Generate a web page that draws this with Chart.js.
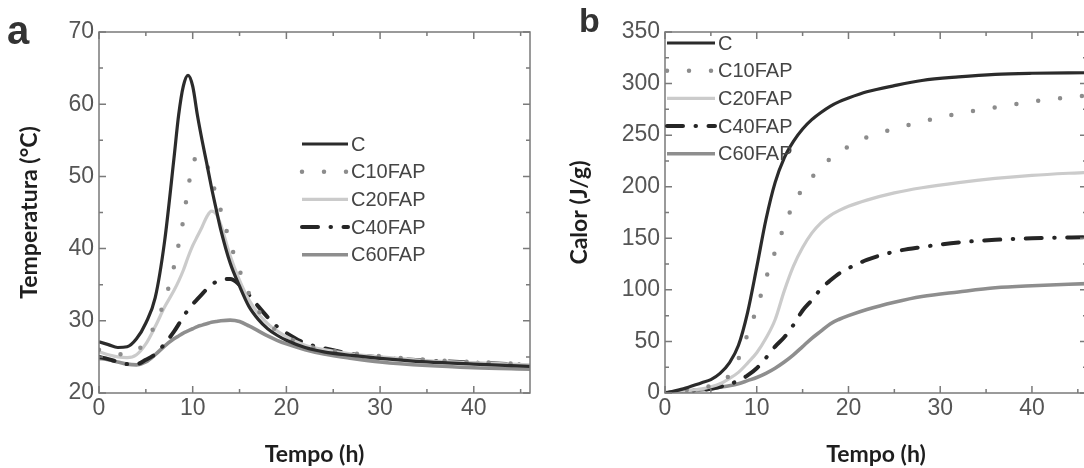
<!DOCTYPE html>
<html>
<head>
<meta charset="utf-8">
<script src="https://cdn.jsdelivr.net/npm/chart.js@4/dist/chart.umd.min.js"></script>
<style>
  html, body { margin: 0; padding: 0; background: #fff; overflow: hidden; }
  #wrap { position: relative; width: 1084px; height: 468px; overflow: hidden; }
  .panel { position: absolute; top: 0; }
  .tag { position: absolute; font-family: "Liberation Sans", Arial, sans-serif; font-weight: bold; color: #333; line-height: 1; }
</style>
</head>
<body>
<div id="wrap">
  <div class="panel" style="left:0"><canvas id="TempChart" width="540" height="468"></canvas></div>
  <div class="panel" style="left:540px"><canvas id="HeatChart" width="552" height="468"></canvas></div>
  <div class="tag" style="left:7px;top:10px;font-size:40px">a</div>
  <div class="tag" style="left:579px;top:3px;font-size:34px">b</div>
</div>
<script>
const seriesNames = ["C", "C10FAP", "C20FAP", "C40FAP", "C60FAP"];

// a) temperatura (°C) vs tempo (h)
const timeA = [0, 1, 2, 3, 4, 5, 6, 7, 8, 8.5, 9, 9.5, 10, 10.5, 11, 11.5, 12, 12.5, 13, 14, 15, 16, 17, 18, 19, 20, 22, 24, 27, 30, 35, 40, 46];
const tempC      = [27.1, 26.7, 26.3, 26.4, 27.5, 29.7, 33.2, 41, 52.5, 58.5, 62.5, 64, 62.5, 58.5, 55, 51.8, 48.5, 45.5, 42.6, 38, 34.8, 32, 30.2, 28.9, 28, 27.3, 26.3, 25.7, 25.2, 24.8, 24.3, 24, 23.7];
const tempC10FAP = [26, 25.7, 25.4, 25.3, 25.8, 27.2, 29.5, 32.8, 37.5, 40.6, 44, 48.3, 51.6, 52.8, 52.8, 51.7, 49.5, 47.5, 45.3, 40.8, 37, 33.8, 31.4, 29.8, 28.6, 27.8, 26.6, 26, 25.5, 25.1, 24.6, 24.3, 24];
const tempC20FAP = [25.7, 25.3, 25, 24.9, 25.3, 26.8, 29.2, 31.9, 34.2, 35.5, 37, 38.8, 40.4, 41.7, 43, 44.4, 45.2, 44.8, 43.3, 39, 35.6, 32.9, 31, 29.6, 28.6, 27.8, 26.6, 26, 25.4, 25, 24.5, 24.2, 23.9];
const tempC40FAP = [25, 24.7, 24.3, 24, 24, 24.6, 25.4, 26.8, 28.5, 29.5, 30.6, 31.5, 32.3, 33, 33.7, 34.4, 35, 35.4, 35.7, 35.8, 35, 33.6, 32, 30.5, 29.2, 28.3, 26.9, 26.2, 25.4, 24.9, 24.5, 24.2, 23.9];
const tempC60FAP = [24.8, 24.6, 24.3, 24, 23.9, 24.3, 25.3, 26.5, 27.5, 27.9, 28.3, 28.6, 28.9, 29.2, 29.4, 29.6, 29.8, 29.9, 30, 30.1, 29.9, 29.3, 28.6, 27.9, 27.3, 26.8, 26, 25.4, 24.8, 24.3, 23.8, 23.5, 23.3];

// b) calor (J/g) vs tempo (h)
const timeB = [0, 2, 4, 5, 6, 7, 8, 9, 10, 11, 12, 13, 14, 15, 16, 17, 18, 19, 20, 22, 25, 28, 32, 36, 40, 46];
const heatC      = [0, 4, 10, 13, 19, 29, 46, 78, 122, 168, 204, 228, 244, 256, 265, 272, 278, 282.5, 286, 292, 298, 303, 306.5, 309, 310, 310.5];
const heatC10FAP = [0, 2.5, 5, 7, 10, 17, 33, 57, 82, 111, 137, 162, 183, 198, 209, 219, 227, 233.5, 239, 248, 256, 263, 271, 277, 282.5, 288.5];
const heatC20FAP = [0, 2, 4, 6, 9, 14, 20, 29, 39, 53, 71, 99, 123, 141, 155, 165, 172, 177, 181, 187, 194, 199, 204, 208, 211, 214];
const heatC40FAP = [0, 1.5, 3, 4, 6, 8.5, 12, 17, 24, 34, 45, 54, 66, 80, 90, 101, 109, 116, 121, 129, 137, 141.5, 146, 148.5, 150, 151];
const heatC60FAP = [0, 1.5, 3, 4, 5.5, 7, 9, 12, 15, 19, 24, 30, 37, 45, 53, 60, 67, 71.5, 75, 81, 88, 93.5, 98, 102, 104, 106];

const tempSeries = [tempC, tempC10FAP, tempC20FAP, tempC40FAP, tempC60FAP];
const heatSeries = [heatC, heatC10FAP, heatC20FAP, heatC40FAP, heatC60FAP];

// line look of each series: C, C10FAP, C20FAP, C40FAP, C60FAP
const lineStyles = [
    {color: "#2b2b2b", width: 3.2, dash: [], cap: "butt"},
    {color: "#8c8c8c", width: 4.5, dash: [0, 22], cap: "round"},
    {color: "#cbcbcb", width: 3.2, dash: [], cap: "butt"},
    {color: "#252525", width: 4, dash: [16, 12.5, 0.5, 12.5], cap: "round"},
    {color: "#8e8e8e", width: 3.6, dash: [], cap: "butt"}
];

function makeDatasets(times, series){
    return series.map((vals, i) => ({
        label: seriesNames[i],
        data: times.map((t, j) => ({x: t, y: vals[j]})),
        borderColor: lineStyles[i].color,
        borderWidth: lineStyles[i].width,
        borderDash: lineStyles[i].dash,
        borderCapStyle: lineStyles[i].cap,
        cubicInterpolationMode: "monotone",
        pointRadius: 0,
        fill: false
    }));
}

// box round the plot with small inward ticks on all four sides
const framePlugin = {
    id: "frame",
    afterDatasetsDraw(chart, args, opts){
        const ctx = chart.ctx;
        const a = chart.chartArea;
        const x = chart.scales.x, y = chart.scales.y;
        ctx.save();
        ctx.strokeStyle = "#7a7a7a";
        ctx.lineWidth = 1.5;
        ctx.strokeRect(a.left, a.top, a.right - a.left, a.bottom - a.top);
        ctx.beginPath();
        for (let v = x.min; v <= x.max + 1e-9; v += opts.xMinor){
            const px = x.getPixelForValue(v);
            const len = Math.abs(v % opts.xMajor) < 1e-9 ? 7 : 4;
            ctx.moveTo(px, a.bottom); ctx.lineTo(px, a.bottom - len);
            ctx.moveTo(px, a.top); ctx.lineTo(px, a.top + len);
        }
        for (let v = y.min; v <= y.max + 1e-9; v += opts.yMinor){
            const py = y.getPixelForValue(v);
            const len = Math.abs(v % opts.yMajor) < 1e-9 ? 7 : 4;
            ctx.moveTo(a.left, py); ctx.lineTo(a.left + len, py);
            ctx.moveTo(a.right, py); ctx.lineTo(a.right - len, py);
        }
        ctx.stroke();
        ctx.restore();
    }
};

// legend drawn inside the plot, sample line then name
const legendPlugin = {
    id: "innerLegend",
    afterDraw(chart, args, opts){
        const ctx = chart.ctx;
        ctx.save();
        ctx.font = "20px 'Liberation Sans', Arial, sans-serif";
        ctx.fillStyle = "#454545";
        ctx.textBaseline = "middle";
        chart.data.datasets.forEach((ds, i) => {
            const yy = opts.y + i * opts.rowH;
            ctx.strokeStyle = ds.borderColor;
            ctx.lineWidth = ds.borderWidth;
            ctx.setLineDash(ds.borderDash);
            ctx.lineCap = ds.borderCapStyle;
            ctx.beginPath();
            ctx.moveTo(opts.x, yy);
            ctx.lineTo(opts.x + opts.lineLen, yy);
            ctx.stroke();
            ctx.setLineDash([]);
            ctx.fillText(ds.label, opts.x + opts.lineLen + 3, yy + 1);
        });
        ctx.restore();
    }
};

const tickFont = {family: "'Liberation Sans', Arial, sans-serif", size: 23};
const titleFont = {family: "Lato, sans-serif", size: 23, weight: "bold"};

function makeChart(canvasId, times, series, opt){
    return new Chart(document.getElementById(canvasId).getContext("2d"), {
        type: "line",
        data: {datasets: makeDatasets(times, series)},
        options: {
            responsive: false,
            animation: false,
            events: [],
            layout: {autoPadding: false, padding: {top: 32, right: opt.padRight, bottom: 0, left: 0}},
            plugins: {
                legend: {display: false},
                tooltip: {enabled: false},
                frame: {xMajor: 10, xMinor: 5, yMajor: opt.yStep, yMinor: opt.yStep / 2},
                innerLegend: opt.legend
            },
            scales: {
                x: {
                    type: "linear",
                    min: 0, max: 46,
                    afterFit: s => { s.height = 75; },
                    grid: {display: false, drawTicks: false},
                    border: {display: false},
                    ticks: {stepSize: 10, includeBounds: false, padding: 2, color: "#555", font: tickFont},
                    title: {display: true, text: "Tempo (h)", color: "#1e1e1e", font: titleFont, padding: {top: 0, bottom: 0}}
                },
                y: {
                    type: "linear",
                    min: opt.yMin, max: opt.yMax,
                    afterFit: s => { s.width = opt.yWidth; },
                    grid: {display: false, drawTicks: false},
                    border: {display: false},
                    ticks: {stepSize: opt.yStep, padding: 5, color: "#555", font: tickFont},
                    title: {display: true, text: opt.yTitle, color: "#1e1e1e", font: titleFont, padding: {top: opt.titlePad, bottom: 0}}
                }
            }
        },
        plugins: [framePlugin, legendPlugin]
    });
}

makeChart("TempChart", timeA, tempSeries, {
    yMin: 20, yMax: 70, yStep: 10, yWidth: 99, padRight: 10, titlePad: 16,
    yTitle: "Temperatura (°C)",
    legend: {x: 302, y: 144, rowH: 27.7, lineLen: 46}
});

makeChart("HeatChart", timeB, heatSeries, {
    yMin: 0, yMax: 350, yStep: 50, yWidth: 125, padRight: 5, titlePad: 26,
    yTitle: "Calor (J/g)",
    legend: {x: 127, y: 43, rowH: 27.7, lineLen: 48}
});
</script>
</body>
</html>
